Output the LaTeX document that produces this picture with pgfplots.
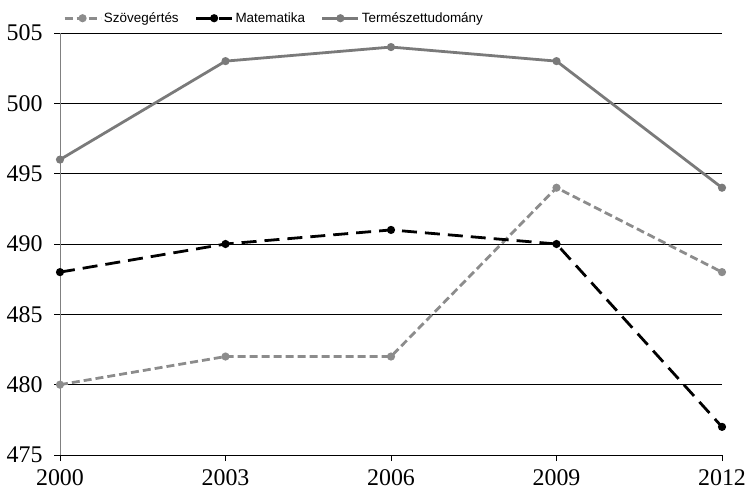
\documentclass[border=0pt]{standalone}
\usepackage{pgfplots}
\pgfplotsset{compat=1.18}
\usepackage{fontspec}
\setmainfont{Liberation Serif}
\newfontfamily\legfont{Liberation Sans}
\definecolor{sz}{HTML}{8C8C8C}
\definecolor{tt}{HTML}{7A7A7A}
\begin{document}
\begin{tikzpicture}
\begin{axis}[
  at={(0,0)}, anchor=origin,
  scale only axis,
  width=662bp, height=422bp,
  xmin=2000, xmax=2012, ymin=475, ymax=505,
  xtick={2000,2003,2006,2009,2012},
  ytick={475,480,...,505},
  xticklabel style={/pgf/number format/1000 sep={}, yshift=-5bp},
  yticklabel style={xshift=-8bp},
  /pgf/number format/assume math mode=true,
  tick label style={font=\fontsize{24}{26}\selectfont},
  ymajorgrids,
  grid style={black, line width=0.8pt},
  axis x line*=bottom, axis y line*=left,
  x axis line style={black, line width=0.8pt, -},
  y axis line style={gray, line width=0.8pt, -},
  tick style={black, line width=0.8pt},
  tick align=outside,
  major tick length=6bp,
  xtick pos=bottom, ytick pos=left,
  legend style={draw=none, fill=none, at={(rel axis cs:0,1.035)}, anchor=west,
    legend columns=-1, font=\legfont\fontsize{13.5}{16}\selectfont,
    /tikz/every even column/.append style={column sep=14bp}},
  legend image code/.code={\draw[mark repeat=2,mark phase=2] plot coordinates {(0bp,0bp) (18bp,0bp) (36bp,0bp)};},
  clip=false,
]
\addplot[sz, line width=2.8pt, dash pattern=on 8bp off 4bp, mark=*, mark size=2.6bp, mark options={solid}]
  coordinates {(2000,480) (2003,482) (2006,482) (2009,494) (2012,488)};
\addlegendentry{Szövegértés}
\addplot[black, line width=2.8pt, dash pattern=on 15bp off 8bp, mark=*, mark size=2.6bp, mark options={solid}]
  coordinates {(2000,488) (2003,490) (2006,491) (2009,490) (2012,477)};
\addlegendentry{Matematika}
\addplot[tt, line width=2.8pt, mark=*, mark size=2.6bp]
  coordinates {(2000,496) (2003,503) (2006,504) (2009,503) (2012,494)};
\addlegendentry{Természettudomány}
\end{axis}
\pgfresetboundingbox
\useasboundingbox (-60bp,-38bp) rectangle (687bp,455bp);
\end{tikzpicture}
\end{document}
